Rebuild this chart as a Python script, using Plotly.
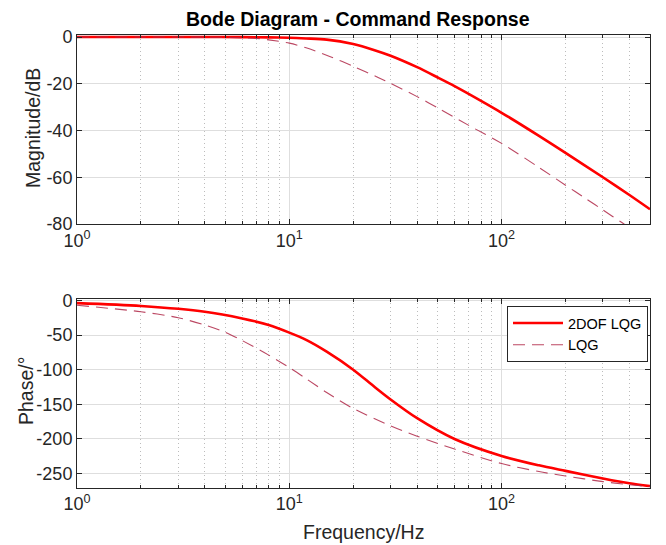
import plotly.graph_objects as go

# ---- data ----
f_mag_2dof = [1, 2, 4, 6, 8, 10, 12, 15, 20, 25, 30, 40, 50, 60, 80, 100, 150, 200, 300, 400, 500]
mag_2dof = [0, 0, 0, -0.05, -0.15, -0.3, -0.6, -1.1, -3.0, -5.5, -8.0, -12.9, -17.3, -21.0, -27.3, -32.4, -42.3, -49.6, -60.0, -67.6, -73.7]

f_mag_lqg = [1, 2, 4, 6, 7.2, 8, 10, 12, 15.5, 20, 26.5, 30, 40, 50, 70, 100, 150, 200, 250, 300, 370, 420]
mag_lqg = [0, 0, -0.05, -0.3, -0.7, -1.2, -2.6, -4.6, -8.3, -12.5, -17.5, -19.8, -25.5, -30.3, -37.8, -45.5, -55.8, -63.4, -69.2, -74.0, -79.5, -82.9]

f_ph_2dof = [1, 2, 4, 6, 8, 10, 12, 15, 20, 25, 30, 40, 60, 100, 150, 200, 300, 400, 500]
ph_2dof = [-4, -8.2, -16.4, -26, -35.5, -46.5, -57, -74, -100, -124, -143, -170, -200, -224.5, -238, -246, -257, -264, -268]

f_ph_lqg = [1, 2, 3, 4, 5, 6, 8, 10, 12, 15, 20, 30, 40, 60, 100, 150, 200, 300, 400, 500]
ph_lqg = [-7, -16.4, -25, -35.5, -46, -58, -79, -97, -113, -133, -156, -181, -196, -214.5, -235.5, -247, -253.4, -261.5, -266, -268.7]

x_tickvals = [1, 10, 100]
x_ticktext = ["10<sup>0</sup>", "10<sup>1</sup>", "10<sup>2</sup>"]
x_minor = [2, 3, 4, 5, 6, 7, 8, 9, 20, 30, 40, 50, 60, 70, 80, 90, 200, 300, 400]
mag_ticks = [-80, -60, -40, -20, 0]
mag_labels = ["-80", "-60", "-40", "-20", "0"]
ph_ticks = [-250, -200, -150, -100, -50, 0]
ph_labels = ["-250", "-200", "-150", "-100", "-50", "0"]

RED = "#FF0000"
DASHC = "#B02848"
FONT = "Liberation Sans, Arial, sans-serif"
AXC = "#262626"

fig = go.Figure()
fig.add_trace(go.Scatter(x=f_mag_2dof, y=mag_2dof, mode="lines", name="2DOF LQG",
                         line=dict(color=RED, width=2.6, shape="spline", smoothing=0.8),
                         xaxis="x", yaxis="y", showlegend=False))
fig.add_trace(go.Scatter(x=f_mag_lqg, y=mag_lqg, mode="lines", name="LQG",
                         line=dict(color=DASHC, width=1.1, dash="12px,7px", shape="spline", smoothing=0.8),
                         opacity=0.85, xaxis="x", yaxis="y", showlegend=False))
fig.add_trace(go.Scatter(x=f_ph_2dof, y=ph_2dof, mode="lines", name="2DOF LQG",
                         line=dict(color=RED, width=2.6, shape="spline", smoothing=0.8),
                         xaxis="x2", yaxis="y2"))
fig.add_trace(go.Scatter(x=f_ph_lqg, y=ph_lqg, mode="lines", name="LQG",
                         line=dict(color=DASHC, width=1.1, dash="12px,7px", shape="spline", smoothing=0.8),
                         opacity=0.85, xaxis="x2", yaxis="y2"))

W, H = 666, 545
xdom = [77 / W, 650 / W]

def xaxis_cfg(anchor):
    return dict(type="log", range=[0, 2.69897], domain=xdom, anchor=anchor, automargin=False,
                tickmode="array", tickvals=x_tickvals, ticktext=x_ticktext,
                ticks="inside", ticklen=5, tickcolor=AXC, showline=True, linecolor=AXC,
                linewidth=1, mirror="allticks", showgrid=True, gridcolor="#dedede",
                gridwidth=1, zeroline=False,
                tickfont=dict(family=FONT, size=18, color=AXC),
                minor=dict(tickmode="array", tickvals=x_minor, ticks="inside", ticklen=3,
                           tickcolor=AXC, showgrid=True, gridcolor="#bdbdbd",
                           griddash="1px,3px", gridwidth=1))

def yaxis_cfg(anchor, rng, dom, tv, tt):
    return dict(range=rng, domain=dom, anchor=anchor, automargin=False,
                tickmode="array", tickvals=tv, ticktext=tt,
                ticks="inside", ticklen=5, tickcolor=AXC, showline=True, linecolor=AXC,
                linewidth=1, mirror="allticks", showgrid=True, gridcolor="#dedede",
                zeroline=False, tickfont=dict(family=FONT, size=18, color=AXC))

def ann(text, x, y, size, angle=0, color=AXC):
    return dict(text=text, x=x / W, y=1 - y / H, xref="paper", yref="paper",
                xanchor="center", yanchor="middle", showarrow=False, textangle=angle,
                font=dict(family=FONT, size=size, color=color))

fig.update_layout(
    width=W, height=H, margin=dict(l=0, r=0, t=0, b=0, autoexpand=False),
    paper_bgcolor="white", plot_bgcolor="white",
    xaxis=xaxis_cfg("y"),
    yaxis=yaxis_cfg("x", [-80, 1], [1 - 224 / H, 1 - 34.7 / H], mag_ticks, mag_labels),
    xaxis2=xaxis_cfg("y2"),
    yaxis2=yaxis_cfg("x2", [-270, 2], [1 - 487.5 / H, 1 - 299 / H], ph_ticks, ph_labels),
    legend=dict(x=648 / W, xanchor="right", y=1 - 306 / H, yanchor="top",
                bgcolor="white", bordercolor=AXC, borderwidth=1,
                font=dict(family=FONT, size=14.5, color="#000000"),
                tracegroupgap=0, itemwidth=50),
    annotations=[
        ann("<b>Bode Diagram - Command Response</b>", 358, 19, 19.5, color="#000000"),
        ann("Magnitude/dB", 33, 128, 19.5, angle=-90),
        ann("Phase/°", 26, 391, 19.5, angle=-90),
        ann("Frequency/Hz", 363, 532, 19.5),
    ],
)

fig.write_html("out.html")
